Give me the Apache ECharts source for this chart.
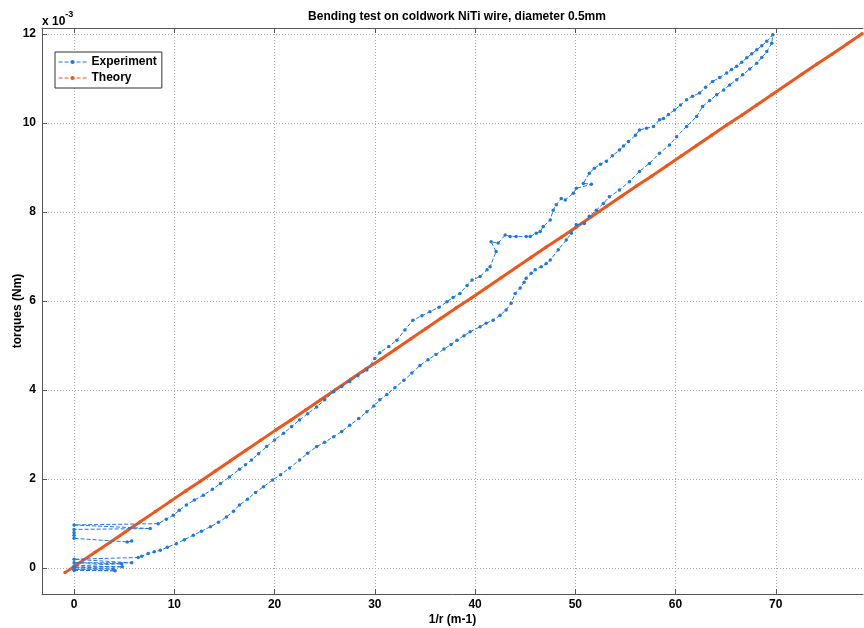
<!DOCTYPE html>
<html>
<head>
<meta charset="utf-8">
<script src="https://cdn.jsdelivr.net/npm/echarts@6/dist/echarts.min.js"></script>
<style>
  html, body { margin: 0; padding: 0; background: #fff; }
  #chart { width: 864px; height: 628px; }
</style>
</head>
<body>
<div id="chart"></div>
<script>
// x: 1/r (m-1), y: torque in units of 1e-3 Nm
var xTicks = [0, 10, 20, 30, 40, 50, 60, 70];
var yTicks = [0, 2, 4, 6, 8, 10, 12];

// glitchy samples around 1/r = 0 before loading
var expStart = [
    [0, -0.05], [4.1, -0.06], [0, -0.03], [3.9, -0.02], [0, 0.01], [4.8, 0.03],
    [0, 0.05], [4.75, 0.10], [0, 0.12], [5.75, 0.12], [0, 0.20], [6.4, 0.24]
];
// lower branch
var expLoading = [
    [6.75, 0.27], [7.4, 0.33], [8.0, 0.37], [8.6, 0.40], [9.3, 0.47], [10.2, 0.55],
    [11.0, 0.64], [11.9, 0.74], [12.7, 0.83], [13.6, 0.93], [14.4, 1.03], [15.2, 1.15],
    [15.9, 1.28], [16.5, 1.42], [17.3, 1.55], [18.1, 1.70], [18.9, 1.83], [19.8, 1.98],
    [20.6, 2.10], [21.5, 2.25], [22.5, 2.43], [23.3, 2.58], [24.2, 2.73], [25.0, 2.83],
    [25.9, 2.95], [26.7, 3.07], [27.5, 3.21], [28.4, 3.36], [29.2, 3.51], [29.9, 3.64],
    [30.5, 3.78], [31.2, 3.90], [32.0, 4.05], [32.9, 4.22], [33.7, 4.38], [34.5, 4.55],
    [35.3, 4.68], [36.1, 4.80], [36.9, 4.92], [37.6, 5.02], [38.2, 5.12], [38.9, 5.22],
    [39.5, 5.31], [40.5, 5.42], [41.1, 5.50], [41.8, 5.57], [42.5, 5.68], [43.1, 5.80],
    [43.6, 5.95], [44.0, 6.17], [44.5, 6.29], [44.9, 6.42], [45.1, 6.51], [45.6, 6.62],
    [46.0, 6.70], [46.6, 6.77], [47.1, 6.84], [47.5, 6.92], [48.3, 7.15], [49.1, 7.37],
    [49.6, 7.52], [50.1, 7.71], [50.9, 7.74], [51.4, 7.90], [52.1, 8.04], [52.8, 8.19],
    [53.4, 8.34], [54.4, 8.49], [55.4, 8.68], [56.4, 8.91], [57.4, 9.09], [58.4, 9.32],
    [59.4, 9.50], [60.1, 9.69], [61.1, 9.92], [62.1, 10.14], [62.7, 10.37], [63.4, 10.50],
    [64.1, 10.63], [64.8, 10.74], [65.4, 10.85], [66.1, 10.97], [66.7, 11.08], [67.4, 11.21],
    [68.1, 11.34], [68.6, 11.47], [69.1, 11.60], [69.6, 11.79], [69.7, 11.98]
];
// upper branch, coming back down
var expUnloading = [
    [69.1, 11.83], [68.6, 11.73], [68.1, 11.64], [67.6, 11.55], [67.1, 11.46], [66.6, 11.36],
    [66.1, 11.27], [65.6, 11.20], [65.1, 11.12], [64.4, 11.02], [63.7, 10.93], [63.0, 10.80],
    [62.4, 10.67], [61.7, 10.60], [61.1, 10.52], [60.5, 10.40], [59.9, 10.29], [59.3, 10.19],
    [58.8, 10.10], [58.4, 10.07], [57.8, 9.92], [57.1, 9.88], [56.4, 9.84], [56.0, 9.72],
    [55.3, 9.58], [54.8, 9.48], [54.4, 9.39], [53.7, 9.26], [53.1, 9.14], [52.5, 9.07],
    [51.9, 8.98], [51.4, 8.87], [50.8, 8.64], [51.6, 8.62], [50.1, 8.53], [49.8, 8.42],
    [49.0, 8.27], [48.6, 8.30], [48.1, 8.16], [47.8, 8.04], [47.5, 7.82], [46.8, 7.67],
    [46.5, 7.56], [46.1, 7.52], [45.5, 7.45], [45.1, 7.45], [44.1, 7.45], [43.5, 7.45],
    [43.0, 7.48], [42.3, 7.30], [41.6, 7.33], [42.1, 7.11], [41.5, 6.77], [41.2, 6.70],
    [40.5, 6.55], [39.7, 6.47], [39.2, 6.35], [38.5, 6.17], [37.8, 6.08], [37.2, 5.98],
    [36.4, 5.86], [35.5, 5.76], [34.7, 5.67], [33.8, 5.57], [33.0, 5.35], [32.2, 5.12],
    [31.4, 4.98], [30.5, 4.84], [30.0, 4.71], [29.2, 4.45], [28.3, 4.32], [27.5, 4.19],
    [26.7, 4.08], [25.9, 3.96], [25.0, 3.78], [24.2, 3.62], [23.3, 3.47], [22.5, 3.33],
    [21.7, 3.18], [20.9, 3.03], [20.0, 2.88], [19.2, 2.73], [18.4, 2.57], [17.7, 2.43],
    [17.1, 2.32], [16.5, 2.22], [15.5, 2.05], [14.6, 1.90], [13.8, 1.77], [12.9, 1.64],
    [12.0, 1.53], [11.2, 1.42], [10.5, 1.30], [9.9, 1.19], [9.2, 1.10], [8.4, 1.00]
];
// glitchy samples at the end
var expEnd = [
    [0, 0.97], [7.6, 0.89], [0, 0.87], [0, 0.80], [0, 0.74], [0, 0.67], [5.3, 0.59], [5.75, 0.61]
];

var theoryX = [-0.9, 0.6, 2.1, 3.6, 5.1, 6.6, 8.1, 9.6, 11.1, 12.6, 14.1, 15.6, 17.1, 18.6,
    20.1, 21.6, 23.1, 24.6, 26.1, 27.6, 29.1, 30.6, 32.1, 33.6, 35.1, 36.6, 38.1, 39.6,
    41.1, 42.6, 44.1, 45.6, 47.1, 48.6, 50.1, 51.6, 53.1, 54.6, 56.1, 57.6, 59.1, 60.6,
    62.1, 63.6, 65.1, 66.6, 68.1, 69.6, 71.1, 72.6, 74.1, 75.6, 77.1, 78.6];
var theoryY = [-0.10, 0.13, 0.36, 0.58, 0.81, 1.04, 1.27, 1.50, 1.73, 1.95, 2.18, 2.41, 2.64, 2.87,
    3.10, 3.32, 3.55, 3.78, 4.01, 4.24, 4.47, 4.69, 4.92, 5.15, 5.38, 5.61, 5.84, 6.06,
    6.29, 6.52, 6.75, 6.98, 7.21, 7.43, 7.66, 7.89, 8.12, 8.35, 8.58, 8.80, 9.03, 9.26,
    9.49, 9.72, 9.95, 10.17, 10.40, 10.63, 10.86, 11.09, 11.32, 11.54, 11.77, 12.00];

var blue = '#1f78e0';
var orange = '#f0561a';
var font = '"Liberation Sans", Arial, sans-serif';

var experiment = expStart.concat(expLoading, expUnloading, expEnd);
var theory = [];
for (var i = 0; i < theoryX.length; i++) {
    theory.push([theoryX[i], theoryY[i]]);
}

var chart = echarts.init(document.getElementById('chart'));

var option = {
    animation: false,
    backgroundColor: '#fff',
    title: {
        text: 'Bending test on coldwork NiTi wire, diameter 0.5mm',
        left: 452,
        top: 6,
        textAlign: 'center',
        textStyle: { fontFamily: font, fontSize: 12, fontWeight: 'bold', color: '#000' }
    },
    graphic: [{
        type: 'text',
        left: 42,
        top: 10,
        style: {
            text: '{a|x 10}{b|-3}',
            rich: {
                a: { fontFamily: font, fontSize: 12, fontWeight: 'bold', fill: '#000', padding: [6, 0, 0, 0] },
                b: { fontFamily: font, fontSize: 9, fontWeight: 'bold', fill: '#000', verticalAlign: 'top' }
            }
        }
    }],
    legend: {
        orient: 'vertical',
        left: 55,
        top: 52,
        padding: [3, 5, 3, 3],
        itemGap: 2,
        itemWidth: 28,
        itemHeight: 5,
        borderColor: '#333',
        borderWidth: 1,
        backgroundColor: '#fff',
        textStyle: { fontFamily: font, fontSize: 12, fontWeight: 'bold', color: '#000', lineHeight: 14 },
        data: [
            { name: 'Experiment', lineStyle: { type: 'dashed', width: 1 } },
            { name: 'Theory', lineStyle: { type: 'dashed', width: 1 } }
        ]
    },
    grid: {
        left: 42,
        right: 1,
        top: 28,
        bottom: 34,
        outerBoundsMode: 'none'
    },
    xAxis: [{
        type: 'value',
        min: -3.2,
        max: 78.7,
        name: '1/r (m-1)',
        nameLocation: 'middle',
        nameGap: 20,
        nameMoveOverlap: false,
        nameTextStyle: { fontFamily: font, fontSize: 12, fontWeight: 'bold', color: '#000' },
        axisLine: { show: true, onZero: false, lineStyle: { color: '#555' } },
        axisTick: { show: true, inside: true, length: 5, customValues: xTicks, lineStyle: { color: '#555' } },
        axisLabel: { customValues: xTicks, margin: 5, fontFamily: font, fontSize: 12, fontWeight: 'bold', color: '#000' },
        splitLine: { show: true, lineStyle: { color: '#aaa', type: [1, 2] } }
    }, {
        type: 'value',
        position: 'top',
        min: -3.2,
        max: 78.7,
        axisLine: { show: true, onZero: false, lineStyle: { color: '#555' } },
        axisTick: { show: true, inside: true, length: 5, customValues: xTicks, lineStyle: { color: '#555' } },
        axisLabel: { show: false },
        splitLine: { show: false }
    }],
    yAxis: {
        type: 'value',
        min: -0.58,
        max: 12.13,
        name: 'torques (Nm)',
        nameLocation: 'middle',
        nameGap: 18,
        nameMoveOverlap: false,
        nameTextStyle: { fontFamily: font, fontSize: 12, fontWeight: 'bold', color: '#000' },
        axisLine: { show: true, onZero: false, lineStyle: { color: '#555' } },
        axisTick: { show: true, inside: true, length: 5, customValues: yTicks, lineStyle: { color: '#555' } },
        axisLabel: { customValues: yTicks, margin: 6, fontFamily: font, fontSize: 12, fontWeight: 'bold', color: '#000' },
        splitLine: { show: true, lineStyle: { color: '#aaa', type: [1, 2] } }
    },
    series: [{
        name: 'Experiment',
        type: 'line',
        data: experiment,
        symbol: 'circle',
        symbolSize: 3.5,
        color: blue,
        lineStyle: { type: 'dashed', width: 1, color: blue },
        itemStyle: { color: blue },
        z: 3
    }, {
        name: 'Theory',
        type: 'line',
        data: theory,
        symbol: 'circle',
        symbolSize: 3.5,
        color: orange,
        lineStyle: { type: 'solid', width: 3, color: orange },
        itemStyle: { color: orange },
        z: 2
    }]
};

chart.setOption(option);
</script>
</body>
</html>
